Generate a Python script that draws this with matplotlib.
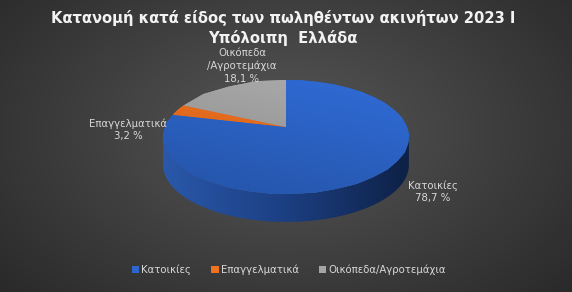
import matplotlib
matplotlib.use("Agg")
import matplotlib.pyplot as plt
import numpy as np
from matplotlib.patches import Patch, Polygon
from matplotlib.colors import LinearSegmentedColormap, to_rgb

# δεδομένα
categories = ["Κατοικίες", "Επαγγελματικά", "Οικόπεδα/Αγροτεμάχια"]
shares = [78.7, 3.2, 18.1]
label_texts = ["Κατοικίες\n78,7 %", "Επαγγελματικά\n3,2 %", "Οικόπεδα\n/Αγροτεμάχια\n18,1 %"]
title = "Κατανομή κατά είδος των πωληθέντων ακινήτων 2023 Ι\nΥπόλοιπη  Ελλάδα"

top_colors = ["#2d66cc", "#f0711f", "#a5a5a5"]

W, H = 572, 292
fig = plt.figure(figsize=(W / 100, H / 100), dpi=100)

# background gradient
bg = fig.add_axes([0, 0, 1, 1])
yy, xx = np.mgrid[0:H, 0:W]
d = np.sqrt(((xx - W / 2) / (W * 0.6)) ** 2 + ((yy - H * 0.45) / (H * 0.75)) ** 2)
g = np.clip(0.34 - 0.16 * d, 0.15, 0.4)
bg.imshow(np.dstack([g, g, g]), extent=[0, W, H, 0], aspect="auto")
bg.set_axis_off()

# pie axes in pixel coords
ax = fig.add_axes([0, 0, 1, 1])
ax.patch.set_alpha(0)

# 3d look: perspective of a tilted disc
cx, apex_y = 286, 127
t, s, q = 0.175, 55.2, 121.0
depth = 28


def persp(xy):
    x, y = xy[:, 0], xy[:, 1]
    k = 1 + t * y
    return np.column_stack([cx + q * x / k, apex_y - s * y / k])


wedges, _ = ax.pie(shares, colors=top_colors, startangle=90, counterclock=False,
                   center=(0, 0), radius=1, wedgeprops=dict(linewidth=0))
top_polys = []
for w in wedges:
    fc = w.get_facecolor()
    polys = w.get_path().to_polygons()
    w.remove()
    top_polys.append((np.vstack([persp(p) for p in polys]), fc))

# side of the disc (front half only)
th = np.linspace(0, 2 * np.pi, 721)
rim = persp(np.column_stack([np.cos(th), np.sin(th)]))
i_l, i_r = np.argmin(rim[:, 0]), np.argmax(rim[:, 0])
th_front = np.linspace(th[i_l], th[i_r] + 2 * np.pi * (th[i_r] < th[i_l]), 400)
front = persp(np.column_stack([np.cos(th_front), np.sin(th_front)]))
side = np.vstack([front, (front + [0, depth])[::-1]])
side_patch = Polygon(side, closed=True, facecolor="none", edgecolor="none")
ax.add_patch(side_patch)
side_cmap = LinearSegmentedColormap.from_list("side", ["#2a58aa", "#1c3f82", "#0e2146"])
grad = np.linspace(0, 1, 256)[None, :]
im = ax.imshow(grad, cmap=side_cmap, extent=[rim[i_l, 0], rim[i_r, 0], 230, 100],
               aspect="auto", zorder=1)
im.set_clip_path(side_patch)

# top face with a soft light from top right
for poly, fc in top_polys:
    p = Polygon(poly, closed=True, facecolor=fc, edgecolor="none", zorder=2)
    ax.add_patch(p)
    base = np.array(to_rgb(fc))
    gy, gx = np.mgrid[0:60, 0:120]
    f = 1.06 - 0.16 * (gy / 59) - 0.08 * (1 - gx / 119)
    img = np.clip(base[None, None, :] * f[:, :, None], 0, 1)
    im2 = ax.imshow(img, extent=[160, 412, 196, 78], aspect="auto", zorder=2.5)
    im2.set_clip_path(p)

ax.set_xlim(0, W)
ax.set_ylim(H, 0)
ax.set_aspect("auto")
ax.set_axis_off()

# labels
lab_pos = [(433, 192), (128, 130), (242, 66)]
for (px, py), txt in zip(lab_pos, label_texts):
    ax.text(px, py, txt, ha="center", va="center", color="#d9d9d9",
            fontsize=7.3, linespacing=1.3, zorder=3)

fig.text(0.495, 1 - 28 / H, title, ha="center", va="center", color="#f2f2f2",
         fontsize=10.6, fontweight="bold", linespacing=1.25)

handles = [Patch(facecolor=c, edgecolor="none") for c in top_colors]
leg = fig.legend(handles, categories, loc="center", bbox_to_anchor=(0.505, 1 - 270 / H),
                 ncol=3, frameon=False, fontsize=7.3, handlelength=0.7, handleheight=0.7,
                 handletextpad=0.2, columnspacing=2.0)
for txt in leg.get_texts():
    txt.set_color("#d9d9d9")

fig.savefig("out.png", dpi=100)
